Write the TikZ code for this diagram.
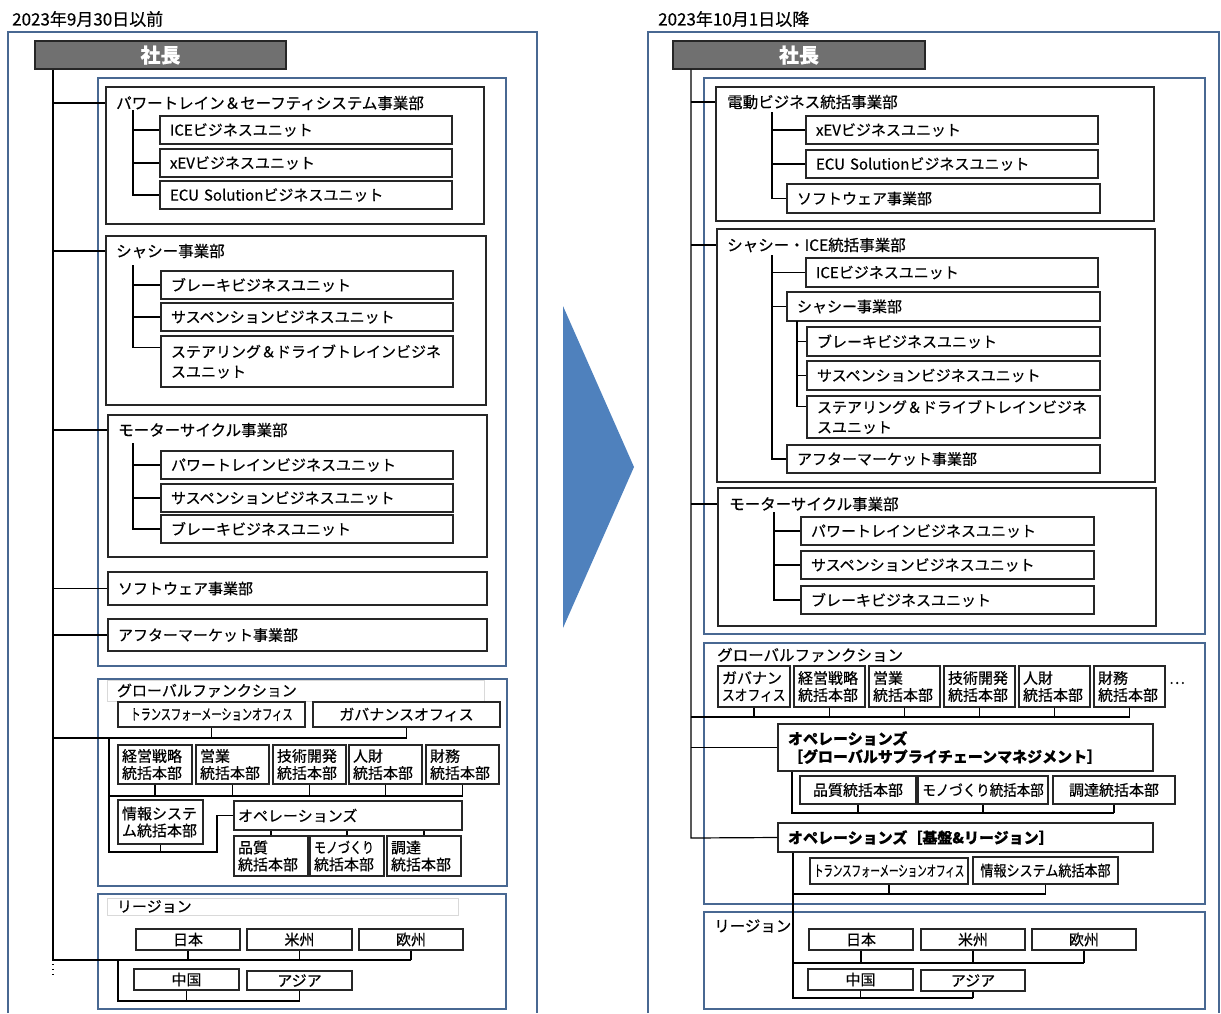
\documentclass[tikz,border=0pt]{standalone}
\usepackage{fontspec}
\setmainfont{Noto Sans CJK JP}[FakeBold=0.5]
\usetikzlibrary{calc}

\definecolor{frameblue}{RGB}{72,104,146}
\definecolor{arrowblue}{RGB}{79,129,189}
\definecolor{bossgray}{RGB}{112,112,112}

\tikzset{
  ubox/.style={draw=black!85, line width=1.2pt, fill=white, inner ysep=0pt, align=left,
    font=\fontsize{15}{17}\selectfont},
  boss/.style={fill=bossgray, text=white, align=center, font=\fontsize{20}{22}\selectfont\bfseries},
  mid/.style={align=center},
  faint/.style={draw=black!15, line width=0.7pt, fill=none},
  bold/.style={font=\fontsize{15}{18}\selectfont\bfseries},
  ttl/.style={inner sep=0pt, anchor=west, font=\fontsize{15.5}{17}\selectfont},
  frame/.style={draw=frameblue, line width=2.7pt},
  link/.style={draw=black, line width=1.2pt},
}

% box from corner (x1,y1) to corner (x2,y2), then name and text
\newcommand{\bxpad}{10}
\newcommand{\bx}[7][]{%
  \pgfmathsetmacro\bw{#4-#2}%
  \pgfmathsetmacro\bh{#5-#3}%
  \pgfmathsetmacro\tw{#4-#2-2*\bxpad}%
  \node[ubox, inner xsep=\bxpad pt, minimum width=\bw pt, minimum height=\bh pt,
    text width=\tw pt, #1] (#6) at ({(#2+#4)/2},{(#3+#5)/2}) {#7};}

\begin{document}
\begin{tikzpicture}[x=1pt, y=-1pt]

    \useasboundingbox (0,0) rectangle (1221,1013);

    % ---------------- before ----------------
    \node[ttl, font=\fontsize{17}{19}\selectfont] (dateL) at (12,19) {2023年9月30日以前};
    \draw[frame] (8,1013) |- (537,32) -- (537,1013);
    \draw[frame] (98,78) rectangle (506,666);
    \draw[frame] (98,679) rectangle (507,886);
    \draw[frame] (98,894) rectangle (506,1009);

    \bx[boss]{35}{41}{286}{69}{bossL}{社長}

    \bx{106}{87}{484}{224}{pwrL}{}
    \node[ttl] (pwrTL) at (116,103) {パワートレイン＆セーフティシステム事業部};
    \bx{160}{116}{452}{144}{iceL}{ICEビジネスユニット}
    \bx{160}{149}{452}{177}{xevL}{xEVビジネスユニット}
    \bx{160}{181}{452}{209}{ecuL}{ECU Solutionビジネスユニット}

    \bx{106}{236}{486}{405}{chsL}{}
    \node[ttl] (chsTL) at (116,251) {シャシー事業部};
    \bx{161}{271}{453}{299}{brkL}{ブレーキビジネスユニット}
    \bx{161}{303}{453}{331}{susL}{サスペンションビジネスユニット}
    \bx[font=\fontsize{15}{20}\selectfont]{161}{336}{453}{387}{strL}{ステアリング＆ドライブトレインビジネ\\スユニット}

    \bx{108}{415}{487}{557}{motL}{}
    \node[ttl] (motTL) at (118,430) {モーターサイクル事業部};
    \bx{161}{451}{453}{479}{mpwL}{パワートレインビジネスユニット}
    \bx{161}{484}{453}{512}{msuL}{サスペンションビジネスユニット}
    \bx{161}{515}{453}{543}{mbrL}{ブレーキビジネスユニット}

    \bx{108}{572}{487}{605}{sftL}{ソフトウェア事業部}
    \bx{108}{619}{487}{651}{aftL}{アフターマーケット事業部}

    % global functions
    \bx[faint]{107}{680}{484}{701}{gfL}{グローバルファンクション}
    \renewcommand{\bxpad}{4}
    \bx[mid]{118}{702}{305}{727}{trfL}{\scalebox{0.68}[1]{トランスフォーメーションオフィス}}
    \bx[mid]{313}{702}{500}{727}{govL}{ガバナンスオフィス}
    \bx{118}{745}{192}{784}{keiL}{経営戦略\\統括本部}
    \bx{196}{745}{269}{784}{eigL}{営業\\統括本部}
    \bx{273}{745}{346}{784}{gijL}{技術開発\\統括本部}
    \bx{349}{745}{422}{784}{jinL}{人財\\統括本部}
    \bx{426}{745}{499}{784}{zaiL}{財務\\統括本部}
    \bx{118}{800}{203}{844}{jyoL}{情報システ\\ム統括本部}
    \bx{234}{801}{462}{830}{opsL}{オペレーションズ}
    \bx{234}{836}{308}{876}{hinL}{品質\\統括本部}
    \bx{310}{836}{384}{876}{monL}{\scalebox{0.8}[1]{モノづくり}\\統括本部}
    \bx{387}{836}{461}{876}{choL}{調達\\統括本部}

    % regions
    \bx[mid]{136}{929}{240}{950}{jpL}{日本}
    \bx[mid]{247}{929}{352}{950}{amL}{米州}
    \bx[mid]{359}{929}{463}{950}{euL}{欧州}
    \bx[mid]{134}{969}{239}{990}{cnL}{中国}
    \bx[mid]{247}{971}{352}{990}{asL}{アジア}
    \renewcommand{\bxpad}{10}
    \bx[faint]{107}{898}{458}{915}{rgL}{リージョン}

    % lines
    \coordinate (trunkL) at (53,960);
    \coordinate (dotsL) at (53,978);
    \draw[link] (bossL.south -| trunkL) -- (trunkL) -- (euL.south |- trunkL);
    \draw[link, dash pattern=on 1.3pt off 3.6pt] (trunkL) ++(0,4) -- (dotsL);
    \foreach \hd/\bd in {pwrTL/pwrL, chsTL/chsL, motTL/motL}
      \draw[link] (\hd.west -| trunkL) -- (\hd.west -| \bd.west);
    \foreach \bd in {sftL, aftL}
      \draw[link] (\bd.west -| trunkL) -- (\bd.west);

    \coordinate (pwrSL) at (133,110);
    \draw[link] (pwrSL) |- (ecuL.west);
    \foreach \n in {iceL, xevL}
      \draw[link] (\n.west -| pwrSL) -- (\n.west);
    \coordinate (chsSL) at (133,265);
    \draw[link] (chsSL) |- ($(strL.north west)+(0,12)$);
    \foreach \n in {brkL, susL}
      \draw[link] (\n.west -| chsSL) -- (\n.west);
    \coordinate (motSL) at (133,443);
    \draw[link] (motSL) |- (mbrL.west);
    \foreach \n in {mpwL, msuL}
      \draw[link] (\n.west -| motSL) -- (\n.west);

    \coordinate (gfJL) at (109,738);
    \coordinate (gfKL) at (109,852);
    \coordinate (opsKL) at (217,852);
    \coordinate (busL) at (109,796);
    \draw[link] (gfJL -| trunkL) -- ++(71,0);
    \draw[link] (govL.south) |- (gfJL) -- (gfKL) -- (opsKL) |- (opsL.west);
    \draw[link] (trfL.south) -- (trfL.south |- gfJL);
    \draw[link] (busL) -- (zaiL.south |- busL);
    \foreach \n in {keiL, eigL, gijL, jinL, zaiL}
      \draw[link] (\n.south) -- (\n.south |- busL);
    \draw[link] (jyoL.south) -- (jyoL.south |- gfKL);
    \foreach \n in {hinL, monL, choL}
      \draw[link] (\n.north) -- (\n.north |- opsL.south);

    \coordinate (rgKL) at (118,1001);
    \foreach \n in {jpL, amL, euL}
      \draw[link] (\n.south) -- (\n.south |- trunkL);
    \draw[link] (rgKL |- trunkL) -- (rgKL) -- (asL.south |- rgKL);
    \foreach \n in {cnL, asL}
      \draw[link] (\n.south) -- (\n.south |- rgKL);

    % ---------------- arrow ----------------
    \fill[arrowblue] (563,306) -- (634,467) -- (563,628) -- cycle;

    % ---------------- after ----------------
    \node[ttl, font=\fontsize{17}{19}\selectfont] (dateR) at (658,19) {2023年10月1日以降};
    \draw[frame] (648,1013) |- (1219,32) -- (1219,1013);
    \draw[frame] (704,78) rectangle (1205,634);
    \draw[frame] (704,643) rectangle (1205,904);
    \draw[frame] (704,912) rectangle (1205,1009);

    \bx[boss]{673}{41}{925}{69}{bossR}{社長}

    \bx{716}{87}{1154}{221}{eleR}{}
    \node[ttl] (eleTR) at (727,102) {電動ビジネス統括事業部};
    \bx{806}{116}{1098}{144}{xevR}{xEVビジネスユニット}
    \bx{806}{150}{1098}{178}{ecuR}{ECU Solutionビジネスユニット}
    \bx{787}{184}{1100}{213}{sftR}{ソフトウェア事業部}

    \bx{717}{229}{1155}{482}{chiR}{}
    \node[ttl] (chiTR) at (727,245) {シャシー・ICE統括事業部};
    \bx{806}{258}{1098}{287}{iceR}{ICEビジネスユニット}
    \bx{787}{292}{1100}{321}{chsR}{シャシー事業部}
    \bx{807}{327}{1100}{356}{brkR}{ブレーキビジネスユニット}
    \bx{807}{361}{1100}{390}{susR}{サスペンションビジネスユニット}
    \bx[font=\fontsize{15}{20}\selectfont]{807}{396}{1100}{438}{strR}{ステアリング＆ドライブトレインビジネ\\スユニット}
    \bx{787}{445}{1100}{473}{aftR}{アフターマーケット事業部}

    \bx{718}{488}{1156}{626}{motR}{}
    \node[ttl] (motTR) at (729,504) {モーターサイクル事業部};
    \bx{801}{517}{1094}{545}{mpwR}{パワートレインビジネスユニット}
    \bx{801}{551}{1094}{579}{msuR}{サスペンションビジネスユニット}
    \bx{801}{586}{1094}{614}{mbrR}{ブレーキビジネスユニット}

    % global functions
    \node[ttl] (gfR) at (717,655) {グローバルファンクション};
    \renewcommand{\bxpad}{4}
    \bx{718}{666}{790}{707}{govR}{ガバナン\\\scalebox{0.85}[1]{スオフィス}}
    \bx{794}{666}{865}{707}{keiR}{経営戦略\\統括本部}
    \bx{869}{666}{940}{707}{eigR}{営業\\統括本部}
    \bx{944}{666}{1015}{707}{gijR}{技術開発\\統括本部}
    \bx{1019}{666}{1090}{707}{jinR}{人財\\統括本部}
    \bx{1094}{666}{1165}{707}{zaiR}{財務\\統括本部}
    \node[inner sep=0pt, font=\fontsize{15}{17}\selectfont] (moreR) at (1177,683) {…};
    \bx[mid]{800}{776}{916}{804}{hinR}{品質統括本部}
    \bx[mid]{918}{776}{1048}{804}{monR}{\scalebox{0.9}[1]{モノづくり統括本部}}
    \bx[mid]{1053}{776}{1175}{804}{choR}{調達統括本部}
    \bx[mid]{810}{858}{968}{884}{trfR}{\scalebox{0.63}[1]{トランスフォーメーションオフィス}}
    \bx[mid]{973}{857}{1118}{884}{jyoR}{\scalebox{0.87}[1]{情報システム統括本部}}

    % regions
    \bx[mid]{809}{929}{913}{950}{jpR}{日本}
    \bx[mid]{921}{929}{1025}{950}{amR}{米州}
    \bx[mid]{1032}{929}{1136}{950}{euR}{欧州}
    \bx[mid]{808}{969}{913}{990}{cnR}{中国}
    \bx[mid]{921}{970}{1025}{991}{asR}{アジア}
    \renewcommand{\bxpad}{10}
    \bx[bold]{778}{724}{1153}{771}{opsGR}{オペレーションズ\\［グローバルサプライチェーンマネジメント］}
    \bx[bold]{778}{823}{1153}{852}{opsBR}{オペレーションズ［基盤\&リージョン］}
    \node[ttl] (rgR) at (714,926) {リージョン};

    % lines
    \coordinate (trunkR) at (691,838);
    \draw[link] (bossR.south -| trunkR) -- (trunkR) -- (opsBR.west);
    \foreach \hd/\bd in {eleTR/eleR, chiTR/chiR, motTR/motR}
      \draw[link] (\hd.west -| trunkR) -- (\hd.west -| \bd.west);
    \draw[link] (opsGR.west -| trunkR) -- (opsGR.west);

    \coordinate (eleSR) at (772,112);
    \draw[link] (eleSR) |- (sftR.west);
    \foreach \n in {xevR, ecuR}
      \draw[link] (\n.west -| eleSR) -- (\n.west);
    \coordinate (chiSR) at (772,255);
    \draw[link] (chiSR) |- (aftR.west);
    \foreach \n in {iceR, chsR}
      \draw[link] (\n.west -| chiSR) -- (\n.west);
    \coordinate (chsSR) at (797,321);
    \draw[link] (chsSR) |- ($(strR.north west)+(0,11)$);
    \foreach \n in {brkR, susR}
      \draw[link] (\n.west -| chsSR) -- (\n.west);
    \coordinate (motSR) at (774,512);
    \draw[link] (motSR) |- (mbrR.west);
    \foreach \n in {mpwR, msuR}
      \draw[link] (\n.west -| motSR) -- (\n.west);

    \coordinate (busR) at (691,717);
    \draw[link] (busR) -- (zaiR.south |- busR);
    \foreach \n in {govR, keiR, eigR, gijR, jinR, zaiR}
      \draw[link] (\n.south) -- (\n.south |- busR);

    \coordinate (opsGSR) at (792,813);
    \draw[link] (opsGR.south -| opsGSR) -- (opsGSR) -- (choR.south |- opsGSR);
    \foreach \n in {hinR, monR, choR}
      \draw[link] (\n.south) -- (\n.south |- opsGSR);

    \coordinate (opsBSR) at (793,998);
    \coordinate (bus3R) at (793,894);
    \coordinate (bus4R) at (793,963);
    \draw[link] (opsBR.south -| opsBSR) -- (opsBSR) -- (asR.south |- opsBSR);
    \draw[link] (bus3R) -- (jyoR.south |- bus3R);
    \foreach \n in {trfR, jyoR}
      \draw[link] (\n.south) -- (\n.south |- bus3R);
    \draw[link] (bus4R) -- (euR.south |- bus4R);
    \foreach \n in {jpR, amR, euR}
      \draw[link] (\n.south) -- (\n.south |- bus4R);
    \foreach \n in {cnR, asR}
      \draw[link] (\n.south) -- (\n.south |- opsBSR);

\end{tikzpicture}
\end{document}
